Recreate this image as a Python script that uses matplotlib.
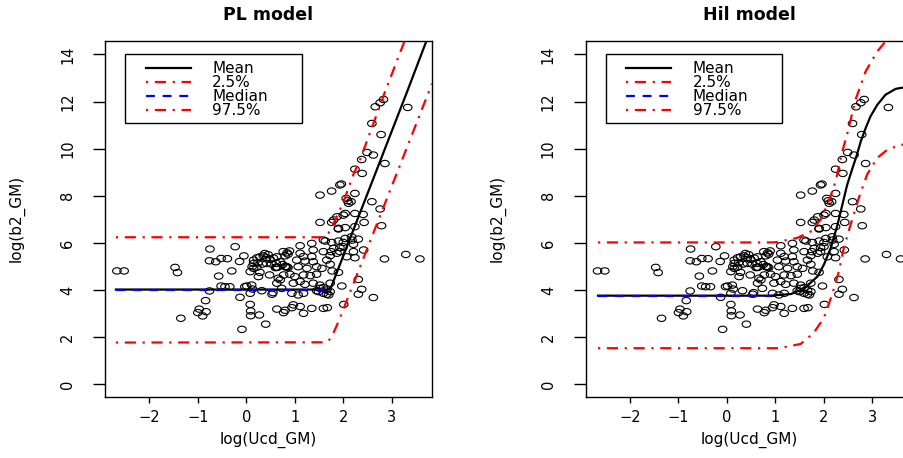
import matplotlib
matplotlib.use("Agg")
import matplotlib.pyplot as plt
from matplotlib.path import Path
from matplotlib.patches import Rectangle
import numpy as np

x_obs = [-2.67, -2.52, -1.47, -1.42, -1.35, -0.75, -0.76, -0.63, -0.57, -0.76,
         -0.84, -0.97, -1.00, -0.83, -0.90, -0.52, -0.52, -0.44, -0.34, -0.39,
         -0.30, -0.23, -0.14, -0.13, -0.09, -0.05, -0.03, 0.01, 0.11, 0.13,
         0.08, 0.08, 0.09, 0.09, 0.27, 0.40, 0.32, 0.53, 0.55, 0.63,
         0.70, 0.73, 0.15, 0.08, 0.28, 0.48,
         0.15, 0.22, 0.28, 0.35, 0.42, 0.49, 0.56, 0.63, 0.15, 0.24,
         0.33, 0.42, 0.52, 0.62, 0.70, 0.12, 0.22, 0.60, 0.62, 0.64,
         0.76, 0.84, 0.89, 0.80, 0.86, 0.80, 0.86, 0.75, 0.77, 0.90,
         1.00, 0.66, 0.63, 0.25, 0.38, 0.45, 0.82, 0.84,
         1.11, 1.35, 1.59, 1.63, 1.90, 1.11, 1.18, 1.38, 1.35, 1.59,
         1.80, 1.87, 1.04, 1.21, 1.38, 1.66, 1.73, 1.07, 1.25, 1.45,
         1.56, 1.18, 1.32, 1.45, 0.97, 1.11, 1.21, 1.38, 1.52, 1.59,
         1.66, 1.73, 0.94, 1.07, 1.18, 1.59, 1.66, 0.97, 0.94, 1.11,
         1.18, 1.35, 1.59, 0.77, 0.80, 1.45, 1.52, 1.49, 1.73,
         1.52, 1.52, 1.76, 1.76, 1.93, 2.06, 2.09, 2.11, 2.16, 2.24,
         2.39, 2.24, 1.87, 2.00, 2.04, 2.24, 2.41, 1.80, 2.43, 2.79,
         2.24, 1.90, 2.04, 2.17, 2.04, 1.90, 2.00, 2.18, 2.31, 2.21,
         1.76, 1.75, 1.93, 2.21, 2.42, 1.93, 2.00, 2.07, 2.24, 1.73,
         2.85, 3.29, 3.58, 1.90, 1.77, 2.31, 1.97, 2.38, 2.31, 2.62,
         1.70, 1.67, 2.01, 2.59, 2.76, 1.96,
         2.83, 2.76, 2.66, 3.33, 2.59, 2.78, 2.49, 2.62, 2.38, 2.86]
y_obs = [4.81, 4.81, 4.96, 4.74, 2.80, 5.74, 5.24, 5.20, 4.59, 3.96,
         3.55, 3.19, 3.04, 3.08, 2.90, 5.34, 4.17, 4.14, 4.14, 5.33,
         4.81, 5.84, 5.21, 3.69, 2.33, 5.45, 4.14, 4.17, 4.21, 4.04,
         3.86, 3.39, 3.11, 2.91, 2.94, 2.55, 3.97, 3.82, 3.89, 3.19,
         4.43, 4.07, 4.92, 4.78, 4.75, 4.64,
         5.27, 5.37, 5.41, 5.45, 5.37, 5.30, 5.36, 5.41, 5.13, 5.16,
         5.10, 5.13, 5.10, 5.13, 5.20, 4.99, 4.97, 4.95, 4.97, 4.96,
         5.63, 5.58, 5.66, 5.45, 5.52, 4.99, 4.95, 5.08, 4.64, 4.67,
         4.57, 4.50, 4.29, 4.57, 5.55, 5.50, 5.00, 4.98,
         5.88, 5.98, 6.12, 6.08, 6.59, 5.56, 5.42, 5.70, 5.42, 5.63,
         5.77, 5.56, 5.27, 5.23, 5.20, 5.27, 5.46, 4.99, 4.92, 4.99,
         4.92, 4.64, 4.61, 4.67, 4.29, 4.36, 4.24, 4.29, 4.21, 4.10,
         4.00, 3.93, 3.86, 3.79, 3.86, 3.86, 3.82, 3.37, 3.25, 3.30,
         3.01, 3.22, 3.22, 3.04, 3.14, 3.97, 4.07, 3.93, 4.29,
         6.87, 8.03, 6.87, 8.20, 8.46, 7.89, 7.79, 7.68, 7.75, 8.10,
         8.95, 9.13, 7.11, 7.18, 7.25, 7.25, 7.21, 6.97, 6.87, 6.73,
         6.69, 6.62, 6.65, 6.26, 6.19, 6.08, 6.02, 6.12, 6.16, 5.94,
         6.02, 5.63, 5.63, 5.63, 5.70, 5.80, 5.84, 5.41, 5.37, 5.09,
         5.32, 5.51, 5.32, 4.75, 4.81, 4.45, 4.17, 4.03, 3.82, 3.68,
         3.79, 3.25, 3.39, 7.75, 7.44, 8.50,
         12.09, 11.95, 11.78, 11.75, 11.07, 10.60, 9.84, 9.73, 9.54, 9.37]

# PL model curves
pl_mean_x = [-2.69, 1.73, 2.69, 3.33, 3.72]
pl_mean_y = [4.02, 4.02, 9.10, 12.49, 14.60]
pl_median_x = [-2.69, 1.73]
pl_median_y = [4.02, 4.02]
pl_lo_x = [-2.69, 1.62, 1.70, 1.78, 1.90, 2.59, 3.83]
pl_lo_y = [1.77, 1.78, 1.85, 2.10, 2.65, 6.26, 12.76]
pl_hi_x = [-2.69, 1.55, 1.62, 1.69, 1.76, 1.85, 2.00, 2.21, 2.35, 2.86, 3.27]
pl_hi_y = [6.24, 6.24, 6.30, 6.40, 6.65, 7.05, 7.72, 8.91, 9.55, 12.41, 14.60]

# Hill model curves
hil_mean_x = [-2.66, 0.90, 1.32, 1.59, 1.87, 2.00, 2.14, 2.28, 2.38, 2.48,
              2.59, 2.68, 2.76, 2.86, 2.96, 3.10, 3.27, 3.48, 3.70]
hil_mean_y = [3.76, 3.76, 3.83, 4.06, 4.58, 5.08, 5.78, 6.77, 7.62, 8.47,
              9.18, 9.74, 10.31, 10.87, 11.37, 11.86, 12.29, 12.54, 12.62]
hil_median_x = [-2.66, 0.90]
hil_median_y = [3.76, 3.76]
hil_lo_x = [-2.66, 1.07, 1.52, 1.79, 2.00, 2.17, 2.31, 2.41, 2.55, 2.72,
            2.89, 3.10, 3.31, 3.55, 3.70]
hil_lo_y = [1.53, 1.53, 1.71, 2.18, 2.82, 3.81, 4.80, 5.79, 6.78, 7.91,
            8.90, 9.61, 9.96, 10.14, 10.20]
hil_hi_x = [-2.66, 0.95, 1.04, 1.45, 1.73, 1.93, 2.10, 2.24, 2.38, 2.51,
            2.65, 2.86, 3.10, 3.29]
hil_hi_y = [6.02, 6.02, 6.04, 6.21, 6.49, 6.98, 7.76, 8.61, 9.88, 10.87,
            12.07, 13.28, 14.13, 14.60]

titles = ["PL model", "Hil model"]
legend_labels = ["Mean", "2.5%", "Median", "97.5%"]
xticks = [-2, -1, 0, 1, 2, 3]
yticks = [0, 2, 4, 6, 8, 10, 12, 14]

mean_style = dict(color="black", lw=1.6, ls="-")
band_style = dict(color="red", lw=1.6, ls=(0, (1, 3, 5, 3)))
median_style = dict(color="#0000ff", lw=1.6, ls=(0, (4, 3.5)))

# open circles look a bit wider than tall in the reference
t = np.linspace(0, 2 * np.pi, 41)
ring = Path(np.column_stack([1.35 * np.cos(t), np.sin(t)]), closed=True)


def draw_legend(ax):
    ax.add_patch(Rectangle((0.0612, 0.7686), 0.5408, 0.194, transform=ax.transAxes,
                           fill=False, ec="black", lw=1.0, zorder=5))
    styles = [mean_style, band_style, median_style, band_style]
    for i, (lab, st) in enumerate(zip(legend_labels, styles)):
        y = 0.9233 - i * 0.0394
        ax.plot([0.1246, 0.2623], [y, y], transform=ax.transAxes, clip_on=False,
                zorder=6, **st)
        ax.text(0.3284, y, lab, transform=ax.transAxes, va="center", ha="left",
                fontsize=11, zorder=6)


def panel(ax, title, mean, lo, median, hi):
    ax.scatter(x_obs, y_obs, s=38, marker=ring, facecolors="none",
               edgecolors="black", linewidths=0.8, zorder=2)
    ax.plot(*mean, zorder=3, **mean_style)
    ax.plot(*lo, zorder=3, **band_style)
    ax.plot(*median, zorder=4, **median_style)
    ax.plot(*hi, zorder=3, **band_style)

    ax.set_xlim(-2.914, 3.825)
    ax.set_ylim(-0.53, 14.57)
    ax.set_xticks(xticks)
    ax.set_yticks(yticks)
    ax.set_xticklabels([str(v).replace("-", "\u2212") for v in xticks])
    ax.tick_params(axis="x", length=4.5, width=1, pad=5, labelsize=10.5)
    ax.tick_params(axis="y", length=8.5, width=1, pad=13, labelsize=10.5,
                   labelrotation=90)
    for lbl in ax.get_yticklabels():
        lbl.set_va("center")
    for sp in ax.spines.values():
        sp.set_linewidth(1.0)

    ax.set_title(title, fontsize=12.5, fontweight="bold", pad=15)
    ax.set_xlabel("log(Ucd_GM)", fontsize=11)
    ax.set_ylabel("log(b2_GM)", fontsize=11)
    ax.xaxis.set_label_coords(0.5, -0.1)
    ax.yaxis.set_label_coords(-0.245, 0.5)
    draw_legend(ax)


fig = plt.figure(figsize=(9.04, 4.58), dpi=100)
ax1 = fig.add_axes([0.1162, 0.1338, 0.3614, 0.7766])
ax2 = fig.add_axes([0.6479, 0.1338, 0.3614, 0.7766])

panel(ax1, titles[0], (pl_mean_x, pl_mean_y), (pl_lo_x, pl_lo_y),
      (pl_median_x, pl_median_y), (pl_hi_x, pl_hi_y))
panel(ax2, titles[1], (hil_mean_x, hil_mean_y), (hil_lo_x, hil_lo_y),
      (hil_median_x, hil_median_y), (hil_hi_x, hil_hi_y))

fig.savefig("out.png", dpi=100, facecolor="white")
